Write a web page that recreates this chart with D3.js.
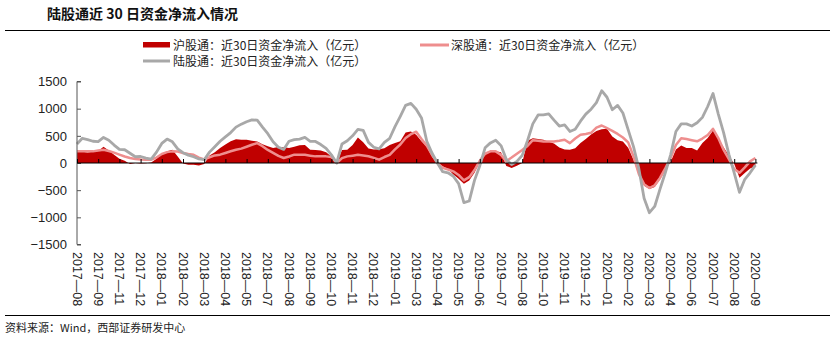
<!DOCTYPE html>
<html><head><meta charset="utf-8">
<script src="https://cdn.jsdelivr.net/npm/d3@7"></script>
<style>body{margin:0;background:#fff}svg{display:block}</style>
</head><body><svg id="c" width="836" height="338"></svg>
<script>
const monthLabels = ["2017-08","2017-09","2017-11","2017-12","2018-01","2018-02","2018-03","2018-04","2018-05","2018-07","2018-08","2018-09","2018-10","2018-11","2018-12","2019-01","2019-03","2019-04","2019-05","2019-06","2019-07","2019-08","2019-10","2019-11","2019-12","2020-01","2020-02","2020-03","2020-04","2020-06","2020-07","2020-08","2020-09"];
const pointsPerLabel = 4;
// 沪股通：近30日资金净流入（亿元）
const hgt = [214,205,195,205,220,300,230,150,80,40,
-20,0,-10,-5,10,80,170,214,244,120,
-10,-30,-30,-45,-20,140,200,275,340,400,
435,430,427,410,395,345,310,275,295,290,
275,300,325,330,244,238,232,200,120,0,
240,244,330,470,380,265,250,255,270,330,
370,400,560,580,520,400,300,110,0,-60,
-110,-210,-290,-380,-320,-180,20,170,214,214,
200,-55,-90,-50,0,410,455,440,427,390,
360,285,250,244,270,370,440,525,590,620,
630,490,420,397,280,60,-220,-420,-480,-440,
-305,-130,20,250,320,275,275,230,370,460,
600,460,290,140,-20,-270,-185,-100,-60];
// 深股通：近30日资金净流入（亿元）
const sgt = [214,214,214,214,230,244,220,190,155,120,
92,75,65,61,61,100,165,200,214,210,
185,165,150,100,65,105,140,153,185,215,
245,265,300,335,365,310,240,185,130,92,
120,153,153,150,135,122,122,122,110,0,
90,122,135,150,140,125,95,61,110,150,
250,340,460,530,575,440,320,150,0,-90,
-120,-153,-220,-320,-260,-130,40,170,214,214,
150,35,100,170,240,315,420,410,397,397,
397,410,427,366,450,519,535,555,650,690,
640,590,535,470,380,120,-200,-390,-460,-410,
-275,-100,90,330,455,440,420,400,450,515,
630,460,240,70,-110,-180,-80,30,92];
// 陆股通：近30日资金净流入（亿元）
const lgt = [350,455,430,400,395,470,420,330,250,244,
180,115,120,90,70,200,360,440,390,260,
190,145,115,75,60,200,300,400,480,560,
660,715,760,793,790,660,540,390,290,250,
400,430,440,470,400,397,340,270,150,0,
350,410,500,620,600,380,290,260,380,455,
670,860,1060,1098,990,830,400,180,0,-160,
-180,-244,-380,-730,-700,-320,-50,280,370,420,
320,70,-30,30,140,410,720,885,885,905,
790,680,700,580,620,770,900,990,1110,1330,
1210,980,1060,920,610,300,-100,-650,-915,-800,
-480,-180,150,580,720,720,680,740,840,1040,
1280,900,560,160,-180,-540,-300,-180,-40];
const yTicks = [-1500,-1000,-500,0,500,1000,1500];
const seriesNames = ["沪股通：近30日资金净流入（亿元）","深股通：近30日资金净流入（亿元）","陆股通：近30日资金净流入（亿元）"];
const titleText = "陆股通近 30 日资金净流入情况";
const sourceText = "资料来源：Wind，西部证券研发中心";

const FONT = "'Liberation Sans','Noto Sans CJK SC',sans-serif";
const CJK = "'Noto Sans CJK SC','Liberation Sans',sans-serif";
const RED = "#c00000", PINK = "#ee8e8e", GREY = "#a8a8a8";

const svg = d3.select("#c");
const n = hgt.length;
const x = d3.scaleLinear().domain([0, n - 1]).range([77, 755.4]);
const y = d3.scaleLinear().domain([-1500, 1500]).range([244.5, 81.5]);

// title & rules
svg.append("text").attr("x", 47).attr("y", 19).attr("font-family", CJK)
  .attr("font-size", 14).attr("font-weight", "bold").attr("fill", "#111").text(titleText);
svg.append("line").attr("x1", 5).attr("x2", 830).attr("y1", 30.5).attr("y2", 30.5)
  .attr("stroke", "#000").attr("stroke-width", 1);
svg.append("line").attr("x1", 5).attr("x2", 830).attr("y1", 315.5).attr("y2", 315.5)
  .attr("stroke", "#000").attr("stroke-width", 1);
svg.append("text").attr("x", 5).attr("y", 332).attr("font-family", CJK)
  .attr("font-size", 11).attr("fill", "#222").text(sourceText);

// legend
const lg = svg.append("g").attr("font-family", CJK).attr("font-size", 12).attr("fill", "#222");
lg.append("rect").attr("x", 143).attr("y", 42).attr("width", 27).attr("height", 5.5).attr("fill", RED);
lg.append("text").attr("x", 173).attr("y", 49.5).text(seriesNames[0]);
lg.append("line").attr("x1", 420).attr("x2", 449).attr("y1", 45).attr("y2", 45).attr("stroke", PINK).attr("stroke-width", 3);
lg.append("text").attr("x", 451).attr("y", 49.5).text(seriesNames[1]);
lg.append("line").attr("x1", 143).attr("x2", 170).attr("y1", 61).attr("y2", 61).attr("stroke", GREY).attr("stroke-width", 3);
lg.append("text").attr("x", 173).attr("y", 65.5).text(seriesNames[2]);

// area and lines
const idx = d3.range(n);
svg.append("path").datum(idx).attr("fill", RED)
  .attr("d", d3.area().x(i => x(i)).y0(y(0)).y1(i => y(hgt[i])));
svg.append("path").datum(idx).attr("fill", "none").attr("stroke", PINK).attr("stroke-width", 2.5)
  .attr("stroke-linejoin", "round")
  .attr("d", d3.line().x(i => x(i)).y(i => y(sgt[i])));
svg.append("path").datum(idx).attr("fill", "none").attr("stroke", GREY).attr("stroke-width", 2.8)
  .attr("stroke-linejoin", "round")
  .attr("d", d3.line().x(i => x(i)).y(i => y(lgt[i])));

// y axis
const yAxis = d3.axisRight(y).tickValues(yTicks).tickSize(4).tickFormat(d3.format("d"));
const gy = svg.append("g").attr("transform", "translate(77,0)").call(yAxis);
gy.select(".domain").attr("stroke", "#555").attr("d", `M4,${y(1500)}H0V${y(-1500)}H4`);
gy.selectAll(".tick line").attr("stroke", "#555");
gy.selectAll(".tick text").attr("x", -10).attr("text-anchor", "end")
  .attr("font-family", FONT).attr("font-size", 13).attr("fill", "#222");

// x axis (on zero line)
const tickIdx = monthLabels.map((d, k) => k * pointsPerLabel);
const xAxis = d3.axisTop(x).tickValues(tickIdx).tickSize(4).tickFormat(() => "");
const gx = svg.append("g").attr("transform", `translate(0,${y(0)})`).call(xAxis);
gx.select(".domain").attr("stroke", "#000").attr("d", `M${x(0)},0H${x(n - 1) + 2}`);
gx.selectAll(".tick line").attr("stroke", "#000");

// rotated month labels
svg.append("g").selectAll("text").data(monthLabels).join("text")
  .attr("transform", (d, k) => `translate(${x(tickIdx[k])},252) rotate(90)`)
  .attr("dy", "0.35em")
  .attr("font-family", FONT).attr("font-size", 12.5).attr("fill", "#222")
  .text(d => d.replace("-", "—"));
</script>
</body></html>
